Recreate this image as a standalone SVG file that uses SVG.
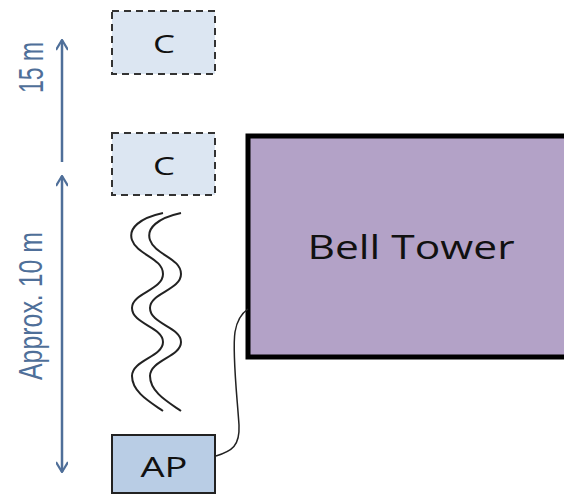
<svg xmlns="http://www.w3.org/2000/svg" width="564" height="495" viewBox="0 0 564 495">
<style>
.c{fill:#dce6f2;stroke:#333;stroke-width:2;stroke-dasharray:7,5}
.lbl{font-family:"Open Sans","Liberation Sans",sans-serif;fill:#111;text-anchor:middle}
.dim{font-family:"Liberation Sans",sans-serif;fill:#4f6f99;text-anchor:middle}
.arr{stroke:#4f6f99;stroke-width:2.5;fill:none}
.wave{stroke:#222;stroke-width:2;fill:none}
</style>
<defs>
<marker id="ah" viewBox="0 0 12 12" refX="11" refY="6" markerWidth="12" markerHeight="12" markerUnits="userSpaceOnUse" orient="auto-start-reverse">
<path d="M1,0 L11,6 L1,12" fill="none" stroke="#4f6f99" stroke-width="2.2"/>
</marker>
</defs>
<rect width="564" height="495" fill="#fff"/>
<g id="c1"><rect class="c" x="112" y="11" width="103" height="63"/><text class="lbl" x="164" y="53" font-size="25" textLength="22" lengthAdjust="spacingAndGlyphs">C</text></g>
<g id="c2"><rect class="c" x="112" y="133" width="103" height="62"/><text class="lbl" x="164" y="175" font-size="25" textLength="22" lengthAdjust="spacingAndGlyphs">C</text></g>
<g id="ap"><rect x="112" y="435" width="103" height="58" fill="#b9cde5" stroke="#222" stroke-width="2"/><text class="lbl" x="164" y="477" font-size="27" textLength="47" lengthAdjust="spacingAndGlyphs">AP</text></g>
<g id="tower"><rect x="248" y="136" width="330" height="221" fill="#b3a2c7" stroke="#000" stroke-width="5"/><text class="lbl" x="411" y="259" font-size="32" textLength="207" lengthAdjust="spacingAndGlyphs">Bell Tower</text></g>
<g id="dims">
<text class="dim" font-size="35" transform="translate(43,67.5) rotate(-90)" textLength="51" lengthAdjust="spacingAndGlyphs">15 m</text>
<text class="dim" font-size="33" transform="translate(42,306) rotate(-90)" textLength="148" lengthAdjust="spacingAndGlyphs">Approx. 10 m</text>
</g>
<g id="connectors">
<line class="arr" x1="62" y1="162" x2="62" y2="40" marker-end="url(#ah)"/>
<line class="arr" x1="62" y1="176" x2="62" y2="472" marker-start="url(#ah)" marker-end="url(#ah)"/>
<path class="wave" d="M163,213 C140,218 128,228 132,240 C137,255 163,258 163,274 C163,290 132,293 132,308 C132,324 163,327 163,342 C163,357 132,360 132,376 C132,392 150,402 163,411"/>
<path class="wave" d="M181,213 C158,218 146,228 150,240 C155,255 181,258 181,274 C181,290 150,293 150,308 C150,324 181,327 181,342 C181,357 150,360 150,376 C150,392 168,402 181,411"/>
<path d="M216,456 C232,451 240,446 239,425 C237,395 232,352 235,332 C237,320 242,313 248,309" fill="none" stroke="#222" stroke-width="1.5"/>
</g>
</svg>
